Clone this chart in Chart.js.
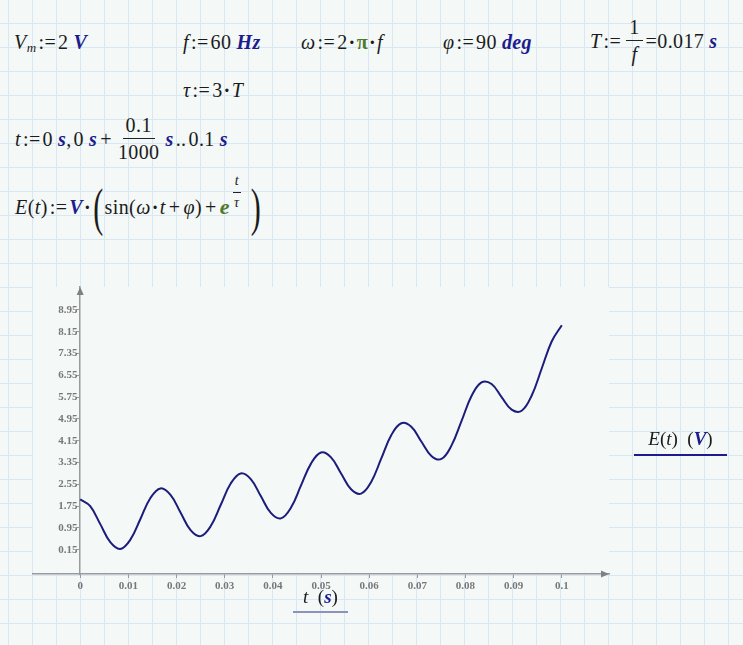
<!DOCTYPE html>
<html>
<head>
<meta charset="utf-8">
<script src="https://cdn.jsdelivr.net/npm/chart.js@4.4.0/dist/chart.umd.min.js"></script>
<style>
  html, body { margin: 0; padding: 0; }
  body {
    width: 743px; height: 645px; overflow: hidden; position: relative;
    background-color: #f4f8f6;
    background-image:
      linear-gradient(to right, #d8e7f3 1px, transparent 1px),
      linear-gradient(to bottom, #d8e7f3 1px, transparent 1px);
    background-size: 24px 24px;
    background-position: 8px 23px;
    font-family: "Liberation Serif", "DejaVu Serif", serif;
    color: #1b1b1b;
  }
  .m { position: absolute; font-size: 20px; line-height: 20px; white-space: nowrap; display: flex; align-items: center; letter-spacing: 0.4px; }
  .u { color: #1c1c8e; font-weight: bold; font-style: italic; margin-left: 5px; }
  .g { color: #4f7a2a; font-weight: bold; }
  .op { margin: 0 2px 0 2px; }
  .pl { margin: 0 3px; }
  .dot { font-weight: bold; margin: 0 1px; }
  .sub { font-size: 13px; position: relative; top: 6px; font-style: italic; }
  .frac { display: inline-flex; flex-direction: column; align-items: center; margin: 0 3px; }
  .frac > span:first-child { border-bottom: 1px solid #222; padding: 0 3px 3px; }
  .frac > span:last-child { padding-top: 3px; }
  .big { font-size: 30px; line-height: 30px; transform: scaleY(1.75); display: inline-block; margin: 0 1px; }
  #wrap { position: absolute; left: 0; top: 270px; width: 743px; height: 340px; }
  .lbl { position: absolute; font-size: 19px; white-space: nowrap; }
</style>
</head>
<body>

<!-- rumus di atas grafik -->
<div class="m" style="left:14px; top:32px;"><i>V</i><span class="sub">m</span><span class="op">:=</span>2<span class="u">V</span></div>
<div class="m" style="left:183px; top:32px;"><i>f</i><span class="op">:=</span>60<span class="u">Hz</span></div>
<div class="m" style="left:301px; top:32px;"><i>ω</i><span class="op">:=</span>2<span class="dot">·</span><span class="g">π</span><span class="dot">·</span><i>f</i></div>
<div class="m" style="left:443px; top:32px;"><i>φ</i><span class="op">:=</span>90<span class="u">deg</span></div>
<div class="m" style="left:590px; top:17px;"><i>T</i><span class="op">:=</span><span class="frac"><span>1</span><span><i>f</i></span></span>=0.017<span class="u">s</span></div>
<div class="m" style="left:183px; top:80px;"><i>τ</i><span class="op">:=</span>3<span class="dot">·</span><i>T</i></div>
<div class="m" style="left:15px; top:115px;"><i>t</i><span class="op">:=</span>0<span class="u">s</span><span style="margin-right:2px;">,</span>0<span class="u">s</span><span class="pl">+</span><span class="frac"><span>0.1</span><span>1000</span></span><span class="u" style="margin-left:3px;">s</span><span style="margin:0 2px;">..</span>0.1<span class="u">s</span></div>
<div class="m" style="left:15px; top:192px;"><i>E</i>(<i>t</i>)<span class="op">:=</span><span class="u" style="margin-left:0;">V</span><span class="dot">·</span><span class="big">(</span>sin(<i>ω</i><span class="dot">·</span><i>t</i><span class="pl">+</span><i>φ</i>)<span class="pl">+</span><span class="g" style="font-style:italic;position:relative;font-size:22px;">e<span style="position:absolute;left:13px;top:-26px;font-size:14px;color:#222;font-weight:normal;display:flex;flex-direction:column;align-items:center;"><i style="border-bottom:1px solid #222;padding:0 2px 1px;">t</i><i>τ</i></span></span><span style="display:inline-block;width:20px;"></span><span class="big">)</span></div>

<div id="wrap"><canvas id="grafikE"></canvas></div>

<div class="lbl" style="left:634px; top:428px; width:93px; text-align:center; border-bottom:2px solid #1c1c8e; padding-bottom:4px;"><i>E</i>(<i>t</i>)&nbsp;&nbsp;(<span class="u" style="margin-left:0;">V</span>)</div>
<div class="lbl" style="left:293px; top:586px; width:55px; text-align:center; border-bottom:2px solid #8c91c0; padding-bottom:3px;"><i>t</i>&nbsp;&nbsp;(<span class="u" style="margin-left:0;">s</span>)</div>

<script>
// data (t dalam detik, E dalam volt)
const waktu = [0, 0.00208, 0.00417, 0.00625, 0.00833, 0.01042, 0.0125, 0.01458, 0.01667, 0.01875,
  0.02083, 0.02292, 0.025, 0.02708, 0.02917, 0.03125, 0.03333, 0.03542, 0.0375, 0.03958,
  0.04167, 0.04375, 0.04583, 0.04792, 0.05, 0.05208, 0.05417, 0.05625, 0.05833, 0.06042,
  0.0625, 0.06458, 0.06667, 0.06875, 0.07083, 0.07292, 0.075, 0.07708, 0.07917, 0.08125,
  0.08333, 0.08542, 0.0875, 0.08958, 0.09167, 0.09375, 0.09583, 0.09792, 0.1];
const tegangan = [2.00, 1.75, 1.09, 0.43, 0.18, 0.52, 1.28, 2.05, 2.40, 2.16,
  1.52, 0.87, 0.65, 1.01, 1.79, 2.58, 2.95, 2.74, 2.12, 1.50,
  1.30, 1.69, 2.50, 3.31, 3.72, 3.54, 2.95, 2.37, 2.21, 2.64,
  3.49, 4.35, 4.79, 4.66, 4.12, 3.59, 3.48, 3.97, 4.87, 5.79,
  6.29, 6.23, 5.75, 5.29, 5.25, 5.81, 6.80, 7.80, 8.39];

const xTicks = [0, 0.01, 0.02, 0.03, 0.04, 0.05, 0.06, 0.07, 0.08, 0.09, 0.1];
const xTickLabels = ['0', '0.01', '0.02', '0.03', '0.04', '0.05', '0.06', '0.07', '0.08', '0.09', '0.1'];
const yTicks = [0.15, 0.95, 1.75, 2.55, 3.35, 4.15, 4.95, 5.75, 6.55, 7.35, 8.15, 8.95];
const yTickLabels = ['0.15', '0.95', '1.75', '2.55', '3.35', '4.15', '4.95', '5.75', '6.55', '7.35', '8.15', '8.95'];

const warnaSumbu = '#9a9a9a';
const fontTick = { family: '"Liberation Serif", serif', size: 11, weight: 'bold' };

// latar area plot + panah sumbu
const dekorasi = {
  id: 'dekorasi',
  beforeDraw(chart) {
    const { ctx, chartArea: a } = chart;
    ctx.save();
    ctx.fillStyle = '#f4f8f6';
    ctx.fillRect(a.left, a.top, a.right - a.left, a.bottom - a.top);
    ctx.restore();
  },
  afterDraw(chart) {
    const { ctx, chartArea: a, scales } = chart;
    const x0 = scales.x.getPixelForValue(0);
    ctx.save();
    ctx.fillStyle = '#808080';
    ctx.beginPath();
    ctx.moveTo(x0, a.top);
    ctx.lineTo(x0 - 3.5, a.top + 8);
    ctx.lineTo(x0 + 3.5, a.top + 8);
    ctx.closePath();
    ctx.fill();
    ctx.beginPath();
    ctx.moveTo(a.right, a.bottom);
    ctx.lineTo(a.right - 8, a.bottom - 3.5);
    ctx.lineTo(a.right - 8, a.bottom + 3.5);
    ctx.closePath();
    ctx.fill();
    ctx.restore();
  }
};

const ctx = document.getElementById('grafikE').getContext('2d');
const grafikE = new Chart(ctx, {
  type: 'line',
  data: {
    datasets: [{
      data: waktu.map((t, i) => ({ x: t, y: tegangan[i] })),
      borderColor: '#1c1c7c',
      borderWidth: 2,
      pointRadius: 0,
      fill: false,
      tension: 0.4
    }]
  },
  options: {
    responsive: true,
    maintainAspectRatio: false,
    animation: false,
    layout: { padding: { left: 33, right: 134, top: 17, bottom: 12 } },
    plugins: { legend: { display: false }, tooltip: { enabled: false } },
    scales: {
      x: {
        type: 'linear',
        position: 'bottom',
        min: -0.0098,
        max: 0.1098,
        afterBuildTicks: (axis) => { axis.ticks = xTicks.map(v => ({ value: v })); },
        afterFit: (s) => { s.height = 24; },
        grid: { drawOnChartArea: false, drawTicks: true, tickLength: 4, color: warnaSumbu },
        border: { color: warnaSumbu, width: 1.5 },
        ticks: {
          padding: 2,
          color: '#777',
          font: fontTick,
          maxRotation: 0,
          autoSkip: false,
          callback: (v, i) => xTickLabels[i]
        }
      },
      y: {
        type: 'linear',
        position: { x: 0 },
        min: -0.74,
        max: 9.79,
        afterBuildTicks: (axis) => { axis.ticks = yTicks.map(v => ({ value: v })); },
        grid: { drawOnChartArea: false, drawTicks: true, tickLength: 3, color: warnaSumbu },
        border: { color: warnaSumbu, width: 1.5 },
        ticks: {
          color: '#777',
          font: fontTick,
          autoSkip: false,
          callback: (v, i) => yTickLabels[i] + ' '
        }
      }
    }
  },
  plugins: [dekorasi]
});
</script>
</body>
</html>
